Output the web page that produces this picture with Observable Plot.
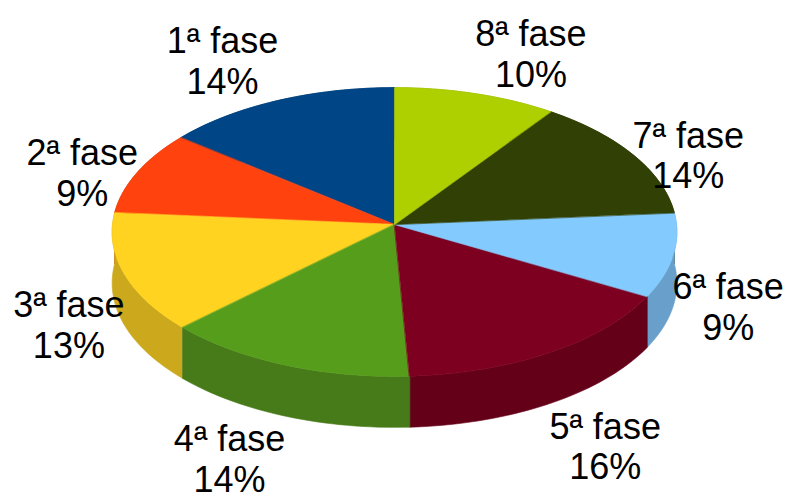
<!DOCTYPE html>
<html>
<head>
<meta charset="utf-8">
<style>html,body{margin:0;padding:0;background:#fff}svg{display:block}</style>
<script src="https://cdn.jsdelivr.net/npm/d3@7"></script>
<script src="https://cdn.jsdelivr.net/npm/@observablehq/plot@0.6"></script>
</head>
<body>
<script>
const phases = ["1ª fase","2ª fase","3ª fase","4ª fase","5ª fase","6ª fase","7ª fase","8ª fase"];
const shares = [14.3,9.4,13.4,13.7,16.1,9.4,13.9,9.8];
const shownShares = [14,9,13,14,16,9,14,10];
const topColors = ["#004586","#ff420e","#ffd320","#579d1c","#7e0021","#83caff","#314004","#aecf00"];
const wallColors = ["#00376b","#cc350b","#cba81c","#477a18","#650019","#689fcb","#273303","#8ba600"];

// Pie geometry, in the unit space of the x and y scales
const perspective = 0.052, depth = 0.354, labelOutX = 0.195, labelOutBack = 0.28, labelOutFront = 0.295;
const project = (deg) => {
  const a = deg * Math.PI / 180, u = Math.sin(a), v = Math.cos(a), d = 1 + perspective * v;
  return {u, v, x: u / d, y: v / d};
};
const total = d3.sum(shares);
let end = 360;
const slices = phases.map((name, i) => {
  const start = end - shares[i] / total * 360;
  const s = {name, i, start, end, mid: (start + end) / 2};
  end = start;
  return s;
});
const arc = (s) => {
  const n = Math.ceil((s.end - s.start) / 1.5);
  return d3.range(n + 1).map((k) => project(s.start + (s.end - s.start) * k / n));
};
const tops = slices.flatMap((s) => [{x: 0, y: 0}, ...arc(s)].map((p) => ({x: p.x, y: p.y, id: s.i, fill: topColors[s.i]})));
// Walls are painted back to front so the nearest one wins at the silhouette
const walls = d3.sort(slices, (s) => project(s.mid).y).reverse().flatMap((s) => {
  const a = arc(s);
  return [...a.map((p) => ({x: p.x, y: p.y})), ...a.slice().reverse().map((p) => ({x: p.x, y: p.y - depth}))]
    .map((p) => ({...p, id: s.i, fill: wallColors[s.i]}));
});
const labels = slices.map((s) => {
  const p = project(s.mid);
  const out = p.v < 0 ? -labelOutFront : labelOutBack;
  const lift = Math.min(1, Math.max(0, (Math.abs(p.v) - 0.5) / 0.3)) * out;
  return {
    x: p.x + Math.sign(p.u) * labelOutX,
    y: p.y + lift - (p.v < 0 ? depth : 0),
    text: `${s.name}\n${shownShares[s.i]}%`
  };
});

const poly = (data) => Plot.line(data, {x: "x", y: "y", z: "id", fill: "fill", stroke: "fill", strokeWidth: 0.6, curve: "linear-closed"});

document.body.append(Plot.plot({
  width: 789, height: 492, margin: 0,
  x: {domain: [-1, 1], range: [112, 676], axis: null},
  y: {domain: [-1, 1], range: [368, 80], axis: null},
  color: {type: "identity"},
  marks: [
    poly(walls),
    poly(tops),
    Plot.text(labels, {x: "x", y: "y", text: "text", fontSize: 36, lineHeight: 1.13, fill: "#000", fontFamily: "'Liberation Sans', Arial, sans-serif"})
  ]
}));
</script>
</body>
</html>
